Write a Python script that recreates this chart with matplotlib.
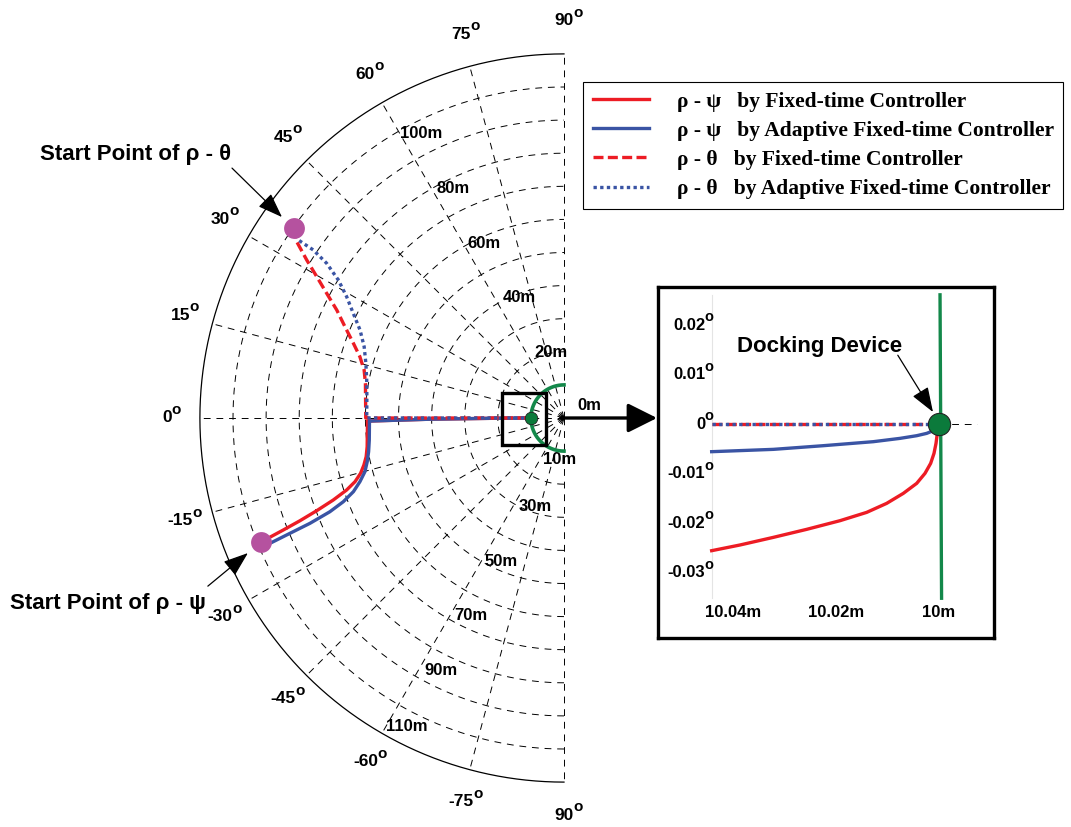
import numpy as np
import matplotlib.pyplot as plt
from matplotlib.patches import Rectangle
from matplotlib.lines import Line2D
from matplotlib.transforms import blended_transform_factory

plt.rcParams['font.family'] = ['Liberation Sans', 'DejaVu Sans']
plt.rcParams['font.weight'] = 'bold'

#------------------------------- data --------------------------------
# angle in degrees (0 = left, 90 = up), range rho in metres
ring_r = [10, 20, 30, 40, 50, 60, 70, 80, 90, 100]
r_max = 110
spoke_deg = [90, 75, 60, 45, 30, 15, 0, -15, -30, -45, -60, -75, -90]
spoke_lab = ['90', '75', '60', '45', '30', '15', '0', '-15', '-30', '-45', '-60', '-75', '90']
ring_lab = ['10m', '20m', '30m', '40m', '50m', '60m', '70m', '80m', '90m', '100m', '110m']

# rho - theta, fixed-time (red dashed)
th_ft_ang = [35.1, 33.4, 31.55, 29.74, 27.72, 25.41, 22.63, 19.52, 16.73, 13.5, 9.9, 6.13, 0.38, 0, 0]
th_ft_rho = [99.6, 96.7, 91.2, 86.0, 81.0, 76.0, 71.7, 67.5, 64.4, 62.1, 60.9, 60.3, 59.9, 59.9, 10]
# rho - theta, adaptive fixed-time (blue dotted)
th_aft_ang = [35.1, 33.82, 33.83, 33.1, 31.44, 29.17, 26.42, 23.33, 19.63, 15.44, 10.9, 6.16, 0.4, 0, 0]
th_aft_rho = [99.6, 96.6, 91.2, 85.6, 79.9, 75.2, 71.1, 67.1, 64.1, 62.1, 60.7, 59.9, 59.6, 59.6, 10]
# rho - psi, fixed-time (red solid)
ps_ft_ang = [-22.26, -22.1, -21.75, -21.26, -20.55, -19.57, -18.33, -16.95, -15.22, -13.22, -11.06,
             -8.29, -5.43, -1.55, -0.9, -0.5, -0.2, 0]
ps_ft_rho = [98.9, 96.4, 91.3, 85.6, 79.8, 74.0, 69.2, 66.0, 63.7, 62.1, 60.9,
             60.1, 59.7, 59.4, 59.4, 40, 20, 10]
# rho - psi, adaptive fixed-time (blue solid)
ps_aft_ang = [-22.26, -23.09, -22.82, -22.52, -21.82, -20.77, -19.28, -17.34, -15.10, -12.53, -9.79,
              -6.45, -1.56, -0.9, -0.5, -0.2, 0]
ps_aft_rho = [98.9, 96.6, 89.8, 83.1, 76.2, 71.3, 67.4, 64.6, 62.3, 60.9, 59.9,
              59.2, 58.8, 58.8, 40, 20, 10]

start_theta = (35.1, 99.6)
start_psi = (-22.26, 98.9)
dock_r = 10

# zoomed view near the docking device
zin_ft_rho = [10.04414, 10.03864, 10.03217, 10.02569, 10.01922, 10.01404, 10.01016, 10.00693,
              10.00433, 10.00272, 10.00162, 10.00097, 10.00058, 10.00033, 10.00013, 10.0]
zin_ft_ang = [-0.02559, -0.02444, -0.02290, -0.02128, -0.01953, -0.01785, -0.01603, -0.01401,
              -0.01199, -0.00997, -0.00795, -0.00593, -0.00391, -0.00189, -0.00054, 0.0]
zin_aft_rho = [10.04414, 10.03217, 10.02247, 10.01276, 10.00757, 10.00433, 10.00239, 10.00110, 10.00025, 10.0]
zin_aft_ang = [-0.00559, -0.00512, -0.00438, -0.00357, -0.00290, -0.00236, -0.00189, -0.00135, -0.00074, 0.0]
zin_th_rho = [10.04414, 10.0]
zin_th_ang = [0.0, 0.0]
zin_dev_rho = [9.9998, 9.9995]
zin_dev_ang = [0.0261, -0.0352]
zin_yt = [0.02, 0.01, 0, -0.01, -0.02, -0.03]
zin_yt_lab = ['0.02', '0.01', '0', '-0.01', '-0.02', '-0.03']
zin_xt = [10.04, 10.02, 10.0]
zin_xt_lab = ['10.04m', '10.02m', '10m']

RED = '#ed1c24'
BLUE = '#3a54a4'
PURPLE = '#b5529f'
GREEN = '#13884a'
DKGREEN = '#0b7a3b'

#------------------------------- layout ------------------------------
W, H = 1071, 827
CX, CY, S = 564, 418, 3.31  # pixel of the pole, pixels per metre

fig = plt.figure(figsize=(W / 100, H / 100), dpi=100)
ax = fig.add_axes([0, 0, 1, 1])
ax.set_xlim(-CX / S, (W - CX) / S)
ax.set_ylim(-(H - CY) / S, CY / S)
ax.axis('off')


def xy(theta_deg, rho):
    t = np.radians(np.asarray(theta_deg, float))
    r = np.asarray(rho, float)
    return -r * np.cos(t), r * np.sin(t)


def deg_text(axis, x, y, num, fs, ha='center', **kw):
    # number with a raised small "o" as degree sign
    t = axis.text(x, y, num, ha=ha, va='center', fontsize=fs, **kw)
    axis.annotate('o', xy=(1, 1), xycoords=t, xytext=(-0.4, 0.3), textcoords='offset points',
                  ha='left', va='center', fontsize=fs * 0.88)
    return t


grid_kw = dict(color='black', lw=0.7, ls=(0, (7, 6)))
arc = np.linspace(-90, 90, 361)
for r in ring_r:
    ax.plot(*xy(arc, np.full_like(arc, r)), **grid_kw)
ax.plot(*xy(arc, np.full_like(arc, r_max)), color='black', lw=0.9)
for a in spoke_deg:
    ax.plot(*xy([a, a], [0, r_max]), **grid_kw)

for a, lab in zip(spoke_deg, spoke_lab):
    deg_text(ax, *xy(a, 120), lab, 12.5)

ring_lab_ang = [-63, 66, -63, 63, -61, 61, -61, 61, -61, 60, -60]
ring_lab_r = [14, 21.8, 30.1, 40.7, 49.4, 60.4, 68.3, 79.4, 87.2, 99.2, 107.6]
for lab, a, rr in zip(ring_lab, ring_lab_ang, ring_lab_r):
    ax.text(*xy(a, rr), lab, ha='left', va='center', fontsize=12)
ax.text(3.9, 3.9, '0m', ha='left', va='center', fontsize=12)

# trajectories
ax.plot(*xy(ps_ft_ang, ps_ft_rho), color=RED, lw=2.4, zorder=3)
ax.plot(*xy(ps_aft_ang, ps_aft_rho), color=BLUE, lw=2.4, zorder=3)
ax.plot(*xy(th_ft_ang, th_ft_rho), color=RED, lw=2.4, ls=(0, (3, 1.3)), zorder=3)
ax.plot(*xy(th_aft_ang, th_aft_rho), color=BLUE, lw=2.4, ls=(0, (1, 1)), zorder=3)

for a, r in (start_theta, start_psi):
    ax.plot(*xy([a], [r]), 'o', ms=15, color=PURPLE, mec='none', zorder=4)

ax.plot(*xy(arc, np.full_like(arc, dock_r)), color=GREEN, lw=2.6, zorder=3)
ax.plot(*xy([0], [dock_r]), 'o', ms=9, color=DKGREEN, mec='#222222', mew=0.6, zorder=5)
ax.add_patch(Rectangle((-18.8, -8.2), 13.3, 15.8, fill=False, lw=2.4, ec='black', zorder=4))

ax.annotate('', xy=(28.1, 0), xytext=(-1, 0),
            arrowprops=dict(arrowstyle='-|>,head_length=0.9,head_width=0.45', lw=2.4,
                            color='black', mutation_scale=20, shrinkA=0, shrinkB=0), zorder=6)

thin_arrow = dict(arrowstyle='-|>,head_length=1.1,head_width=0.4', lw=0.9, color='black',
                  mutation_scale=14, shrinkA=0, shrinkB=0)
ax.text(-158.3, 79.5, 'Start Point of ρ - θ', ha='left', va='center', fontsize=16)
ax.annotate('', xy=(-85.2, 60.7), xytext=(-100.3, 75.5), arrowprops=thin_arrow)
ax.text(-167.4, -55.9, 'Start Point of ρ - ψ', ha='left', va='center', fontsize=16)
ax.annotate('', xy=(-95.5, -40.8), xytext=(-107.6, -50.8), arrowprops=thin_arrow)

#------------------------------- inset -------------------------------
ax_in = fig.add_axes([658 / W, 1 - 638 / H, 336 / W, 351 / H])
ax_in.set_xlim(10.05456, 9.98932)
ax_in.set_ylim(-0.04323, 0.02768)
ax_in.set_xticks([])
ax_in.set_yticks([])
for sp in ax_in.spines.values():
    sp.set_linewidth(2.4)

ax_in.plot([zin_th_rho[0]] * 2, zin_dev_ang, color='#e4e4e4', lw=0.8)
ax_in.plot([zin_th_rho[-1], 9.9926], [0, 0], **grid_kw)
ax_in.plot(zin_dev_rho, zin_dev_ang, color=GREEN, lw=2.4)
ax_in.plot(zin_ft_rho, zin_ft_ang, color=RED, lw=2.4)
ax_in.plot(zin_aft_rho, zin_aft_ang, color=BLUE, lw=2.4)
ax_in.plot(zin_th_rho, zin_th_ang, color=RED, lw=2.4, ls=(0, (3, 1.3)))
ax_in.plot(zin_th_rho, zin_th_ang, color=BLUE, lw=2.4, ls=(0, (1, 1)))
ax_in.plot([10.0], [0.0], 'o', ms=16, color=DKGREEN, mec='#222222', mew=0.8, zorder=5)

ty = blended_transform_factory(ax_in.transAxes, ax_in.transData)
for v, lab in zip(zin_yt, zin_yt_lab):
    deg_text(ax_in, 0.14, v, lab, 12, ha='right', transform=ty)
tx = blended_transform_factory(ax_in.transData, ax_in.transAxes)
for v, lab in zip(zin_xt, zin_xt_lab):
    ax_in.text(v, 0.074, lab, transform=tx, ha='center', va='center', fontsize=12)

ax_in.text(10.0231, 0.01556, 'Docking Device', ha='center', va='center', fontsize=16)
ax_in.annotate('', xy=(10.00117, 0.00242), xytext=(10.0080, 0.0139), arrowprops=thin_arrow)

#------------------------------- legend ------------------------------
handles = [Line2D([], [], color=RED, lw=2.4),
           Line2D([], [], color=BLUE, lw=2.4),
           Line2D([], [], color=RED, lw=2.4, ls=(0, (3, 1.3))),
           Line2D([], [], color=BLUE, lw=2.4, ls=(0, (1, 1)))]
labels = ['ρ - ψ   by Fixed-time Controller',
          'ρ - ψ   by Adaptive Fixed-time Controller',
          'ρ - θ   by Fixed-time Controller',
          'ρ - θ   by Adaptive Fixed-time Controller']
leg = fig.legend(handles, labels, loc='upper left', bbox_to_anchor=(583 / W, 1 - 82 / H),
                 frameon=True, fancybox=False, edgecolor='black', framealpha=1, borderaxespad=0,
                 prop=dict(family='Liberation Serif', weight='bold', size=15.5),
                 handlelength=2.6, handletextpad=1.3, labelspacing=0.42, borderpad=0.45)
leg.get_frame().set_linewidth(0.8)

fig.savefig('out.png', dpi=100)
